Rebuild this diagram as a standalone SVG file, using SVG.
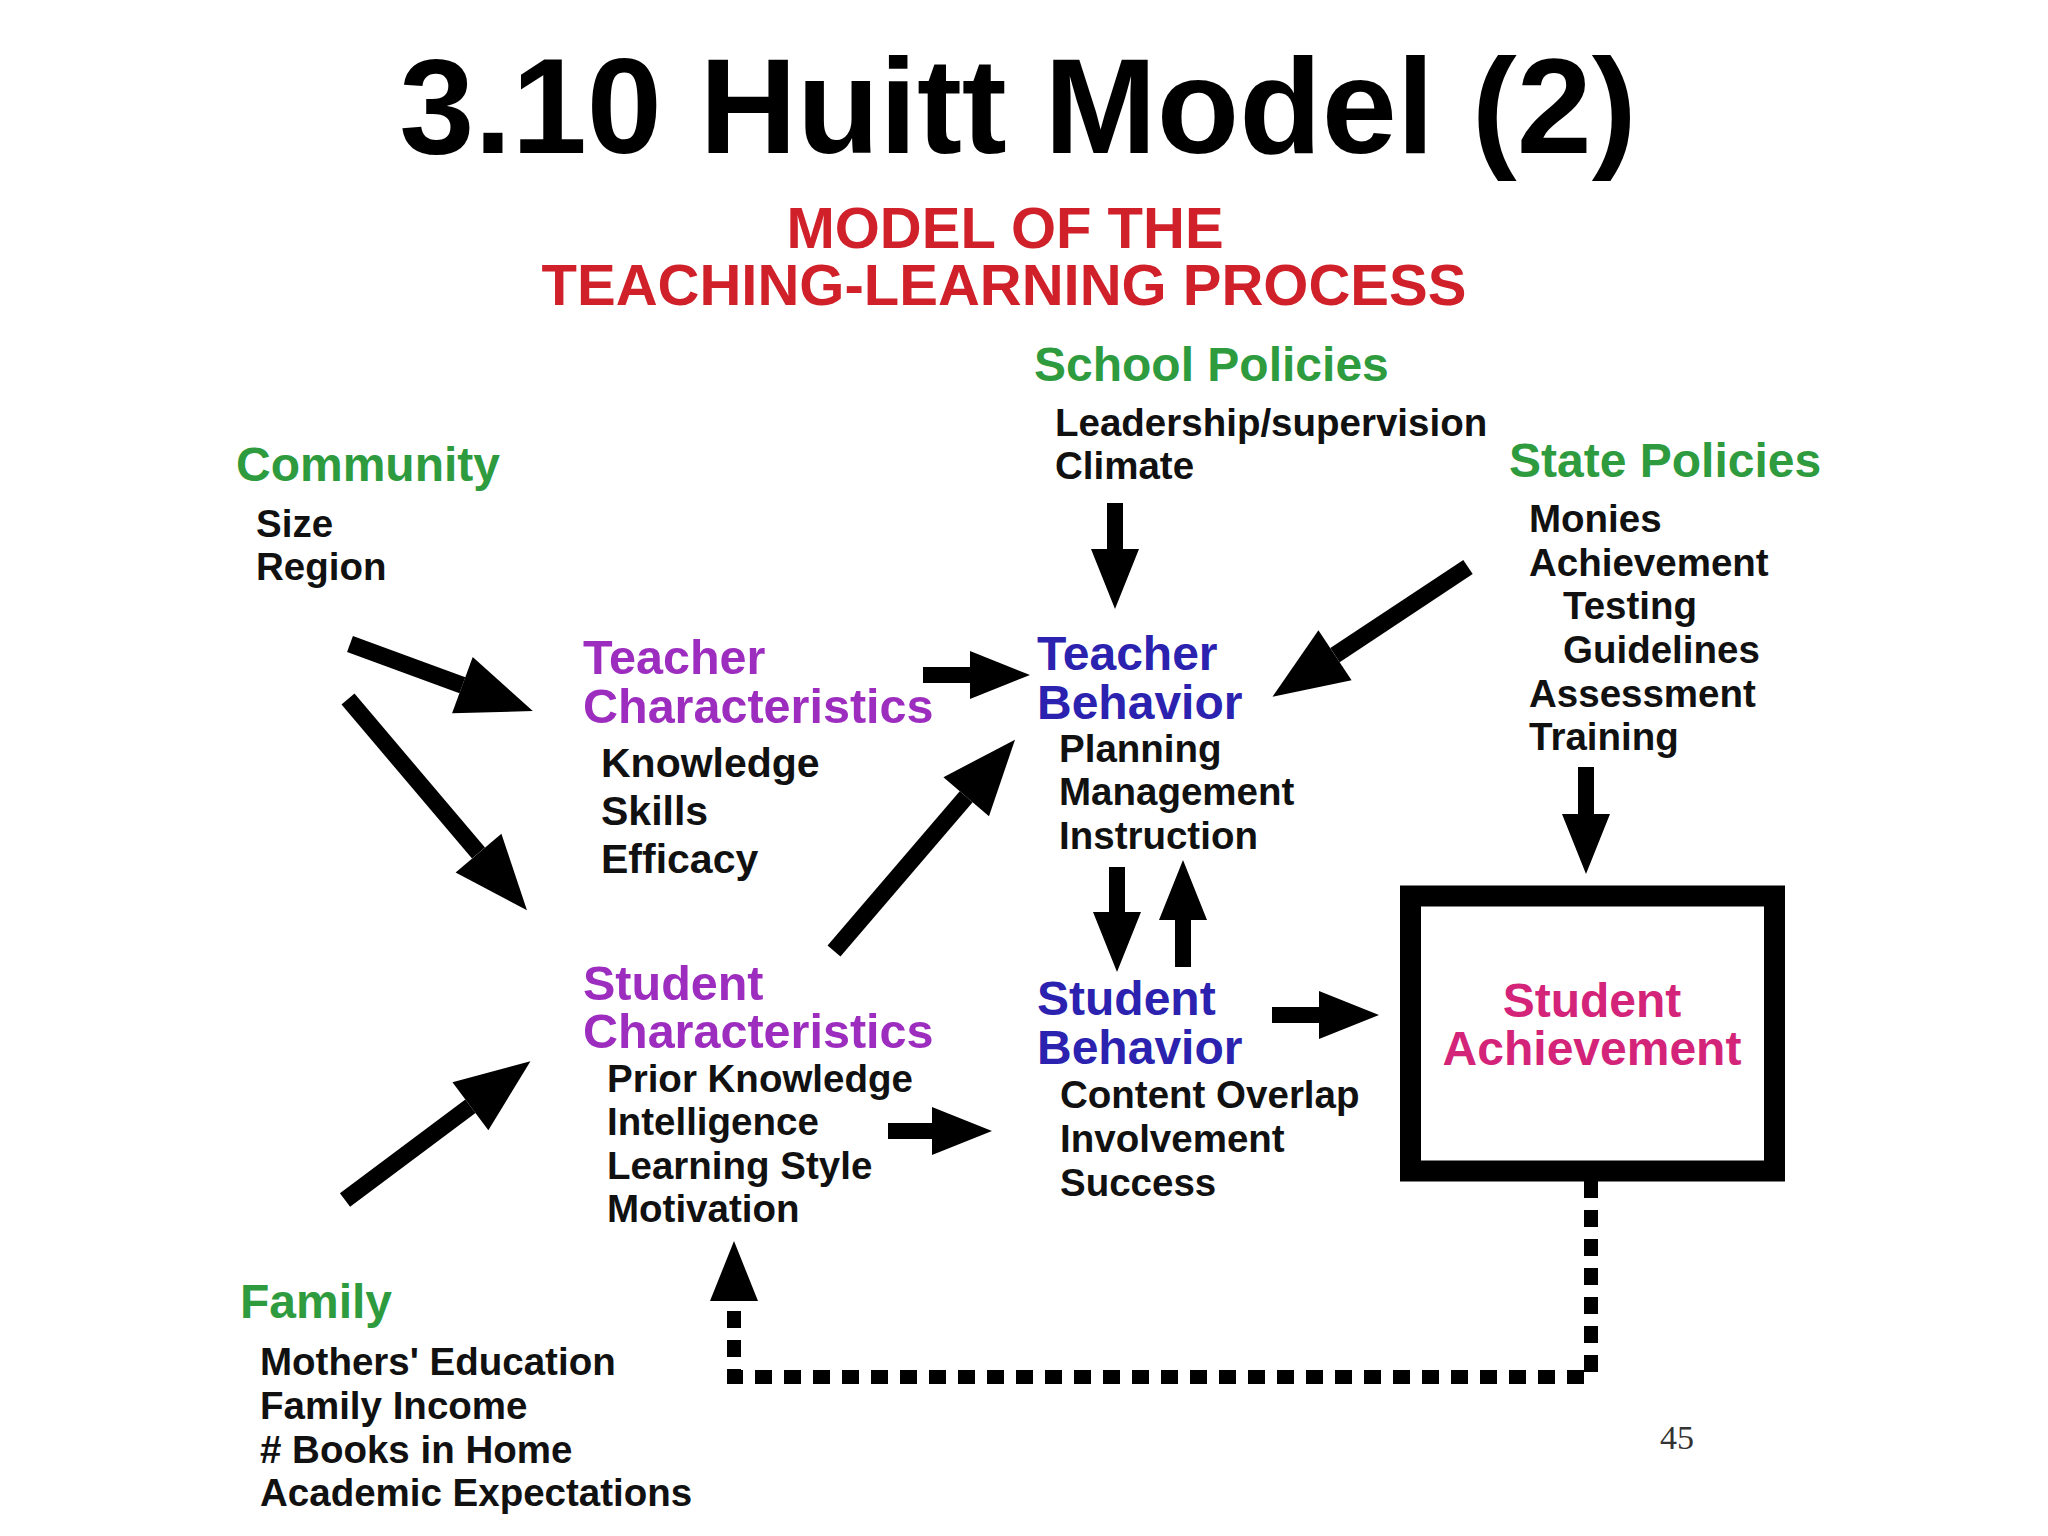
<svg xmlns="http://www.w3.org/2000/svg" width="2048" height="1536" viewBox="0 0 2048 1536">
<style>
text{font-family:"Liberation Sans",Arial,Helvetica,sans-serif;font-weight:bold}
.title{font-size:135px;fill:#000}
.sub{font-size:58px;fill:#d0212b}
.green{font-size:48px;fill:#2e9b3e}
.purple{font-size:48.5px;fill:#9c2dbf}
.blue{font-size:48px;fill:#2b22b0}
.mag{font-size:48px;fill:#d3247a}
.body{font-size:38.5px;fill:#111}
.body41{font-size:41px;fill:#111}
.page{font-family:"Liberation Serif","Times New Roman",serif;font-weight:normal;font-size:34px;fill:#333}
.shaft{stroke:#000;stroke-width:16;fill:none}
.shaftL{stroke:#000;stroke-width:17;fill:none}
.dash{stroke:#000;stroke-width:14;fill:none;stroke-dasharray:17 12}
</style>
<defs>
<marker id="head-s" markerUnits="userSpaceOnUse" markerWidth="60" markerHeight="48" viewBox="0 0 60 48" refX="0" refY="24" orient="auto" overflow="visible"><path d="M0,0 L60,24 L0,48 Z" fill="#000" stroke="none"/></marker>
<marker id="head-l" markerUnits="userSpaceOnUse" markerWidth="75" markerHeight="60" viewBox="0 0 75 60" refX="0" refY="30" orient="auto" overflow="visible"><path d="M0,0 L75,30 L0,60 Z" fill="#000" stroke="none"/></marker>
</defs>
<rect width="2048" height="1536" fill="#fff"/>

<g id="title">
<text class="title" x="1018" y="153" text-anchor="middle">3.10 Huitt Model (2)</text>
</g>
<g id="subtitle">
<text class="sub" x="1005" y="248" text-anchor="middle">MODEL OF THE</text>
<text class="sub" x="1004" y="305" text-anchor="middle">TEACHING-LEARNING PROCESS</text>
</g>

<g id="community">
<text class="green" x="236" y="481">Community</text>
<text class="body" x="256" y="537">Size</text>
<text class="body" x="256" y="580">Region</text>
</g>

<g id="school-policies">
<text class="green" x="1034" y="381">School Policies</text>
<text class="body" x="1055" y="436">Leadership/supervision</text>
<text class="body" x="1055" y="479">Climate</text>
</g>

<g id="state-policies">
<text class="green" x="1509" y="477">State Policies</text>
<text class="body" x="1529" y="532">Monies</text>
<text class="body" x="1529" y="576">Achievement</text>
<text class="body" x="1563" y="619">Testing</text>
<text class="body" x="1563" y="663">Guidelines</text>
<text class="body" x="1529" y="707">Assessment</text>
<text class="body" x="1529" y="750">Training</text>
</g>

<g id="teacher-characteristics">
<text class="purple" x="583" y="674">Teacher</text>
<text class="purple" x="583" y="723">Characteristics</text>
<text class="body41" x="601" y="777">Knowledge</text>
<text class="body41" x="601" y="825">Skills</text>
<text class="body41" x="601" y="873">Efficacy</text>
</g>

<g id="teacher-behavior">
<text class="blue" x="1037" y="670">Teacher</text>
<text class="blue" x="1037" y="719">Behavior</text>
<text class="body" x="1059" y="762">Planning</text>
<text class="body" x="1059" y="805">Management</text>
<text class="body" x="1059" y="849">Instruction</text>
</g>

<g id="student-characteristics">
<text class="purple" x="583" y="1000">Student</text>
<text class="purple" x="583" y="1048">Characteristics</text>
<text class="body" x="607" y="1092">Prior Knowledge</text>
<text class="body" x="607" y="1135">Intelligence</text>
<text class="body" x="607" y="1179">Learning Style</text>
<text class="body" x="607" y="1222">Motivation</text>
</g>

<g id="student-behavior">
<text class="blue" x="1037" y="1015">Student</text>
<text class="blue" x="1037" y="1064">Behavior</text>
<text class="body" x="1060" y="1108">Content Overlap</text>
<text class="body" x="1060" y="1152">Involvement</text>
<text class="body" x="1060" y="1196">Success</text>
</g>

<g id="student-achievement">
<rect x="1410.5" y="896" width="364" height="275" fill="#fff" stroke="#000" stroke-width="21"/>
<text class="mag" x="1592" y="1017" text-anchor="middle">Student</text>
<text class="mag" x="1592" y="1065" text-anchor="middle">Achievement</text>
</g>

<g id="family">
<text class="green" x="240" y="1318">Family</text>
<text class="body" x="260" y="1375">Mothers' Education</text>
<text class="body" x="260" y="1419">Family Income</text>
<text class="body" x="260" y="1463"># Books in Home</text>
<text class="body" x="260" y="1506">Academic Expectations</text>
</g>

<g id="page-number">
<text class="page" x="1660" y="1449">45</text>
</g>

<g id="connectors">
<path class="shaftL" d="M350,644 L462.4,685.2" marker-end="url(#head-l)"/>
<path class="shaftL" d="M348,699 L478.5,853.1" marker-end="url(#head-l)"/>
<path class="shaftL" d="M345,1200 L470.4,1106.2" marker-end="url(#head-l)"/>
<path class="shaftL" d="M834,951 L966.2,796.7" marker-end="url(#head-l)"/>
<path class="shaftL" d="M1468,567 L1335,655.2" marker-end="url(#head-l)"/>
<path class="shaft" d="M923,675 L970,675" marker-end="url(#head-s)"/>
<path class="shaft" d="M1115,503 L1115,549" marker-end="url(#head-s)"/>
<path class="shaft" d="M1586,767 L1586,814" marker-end="url(#head-s)"/>
<path class="shaft" d="M1117,867 L1117,912" marker-end="url(#head-s)"/>
<path class="shaft" d="M1183,967 L1183,920" marker-end="url(#head-s)"/>
<path class="shaft" d="M888,1131 L932,1131" marker-end="url(#head-s)"/>
<path class="shaft" d="M1272,1015 L1319,1015" marker-end="url(#head-s)"/>
<path class="dash" d="M1591,1181 V1377 H734 V1301" marker-end="url(#head-s)"/>
</g>
</svg>
